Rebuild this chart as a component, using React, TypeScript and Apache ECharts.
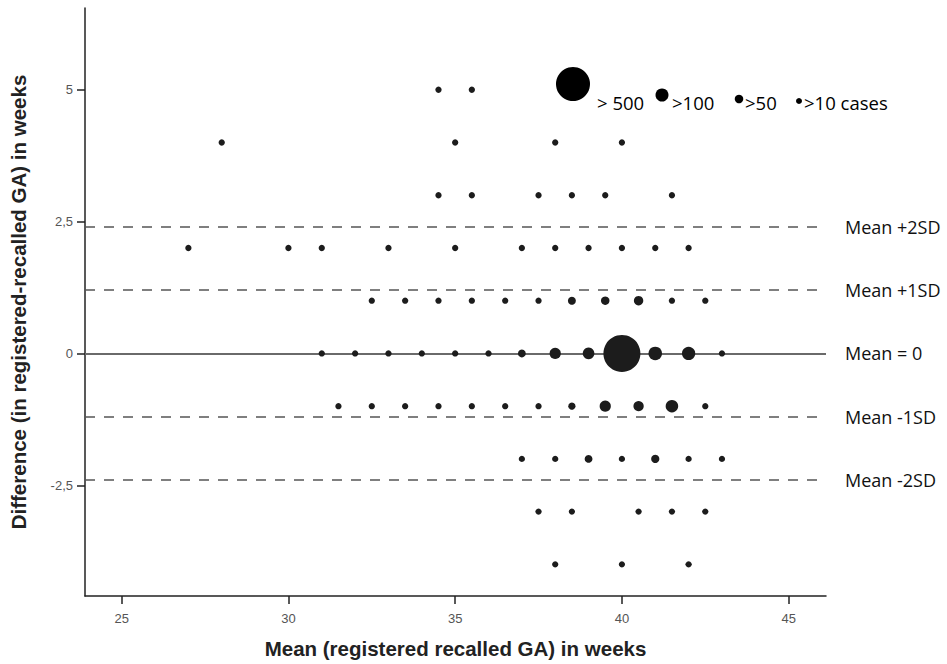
import React, { useEffect, useRef } from "react";
import * as echarts from "echarts";

// Mean of registered & recalled GA (weeks)
const meanWeeks = [
  34.5, 35.5,
  28, 35, 38, 40,
  34.5, 35.5, 37.5, 38.5, 39.5, 41.5,
  27, 30, 31, 33, 35, 37, 38, 39, 40, 41, 42,
  32.5, 33.5, 34.5, 35.5, 36.5, 37.5, 38.5, 39.5, 40.5, 41.5, 42.5,
  31, 32, 33, 34, 35, 36, 37, 38, 39, 40, 41, 42, 43,
  31.5, 32.5, 33.5, 34.5, 35.5, 36.5, 37.5, 38.5, 39.5, 40.5, 41.5, 42.5,
  37, 38, 39, 40, 41, 42, 43,
  37.5, 38.5, 40.5, 41.5, 42.5,
  38, 40, 42,
];
// Difference (registered - recalled) in weeks
const diffWeeks = [
  5, 5,
  4, 4, 4, 4,
  3, 3, 3, 3, 3, 3,
  2, 2, 2, 2, 2, 2, 2, 2, 2, 2, 2,
  1, 1, 1, 1, 1, 1, 1, 1, 1, 1, 1,
  0, 0, 0, 0, 0, 0, 0, 0, 0, 0, 0, 0, 0,
  -1, -1, -1, -1, -1, -1, -1, -1, -1, -1, -1, -1,
  -2, -2, -2, -2, -2, -2, -2,
  -3, -3, -3, -3, -3,
  -4, -4, -4,
];
// Estimated number of cases at each point
const caseCounts = [
  15, 15,
  15, 15, 15, 15,
  15, 15, 15, 15, 15, 15,
  15, 15, 15, 15, 15, 15, 15, 15, 15, 15, 15,
  15, 15, 15, 15, 15, 15, 42, 50, 60, 15, 15,
  15, 15, 15, 15, 15, 15, 40, 80, 85, 600, 110, 105, 15,
  15, 15, 15, 15, 15, 15, 15, 30, 80, 70, 95, 15,
  15, 15, 40, 15, 45, 15, 15,
  15, 15, 15, 15, 15,
  15, 15, 15,
];

const xTicks = [25, 30, 35, 40, 45];
const yTicks = [-2.5, 0, 2.5, 5];

const refLineValues = [2.4, 1.2, 0, -1.2, -2.4];
const refLineLabels = ["Mean +2SD", "Mean +1SD", "Mean = 0", "Mean -1SD", "Mean -2SD"];

const legendThresholds = [500, 100, 50, 10];
const legendLabels = ["> 500", ">100", ">50", ">10 cases"];

const sizeAnchors: [number, number][] = [
  [10, 6],
  [50, 8.5],
  [100, 13],
  [500, 35],
];
function sizeFor(count: number): number {
  if (count <= sizeAnchors[0][0]) return sizeAnchors[0][1];
  for (let i = 1; i < sizeAnchors.length; i++) {
    const [c1, s1] = sizeAnchors[i];
    const [c0, s0] = sizeAnchors[i - 1];
    if (count <= c1) return s0 + ((count - c0) / (c1 - c0)) * (s1 - s0);
  }
  return sizeAnchors[sizeAnchors.length - 1][1] + 2;
}

const FONT = "'Open Sans', 'Noto Sans', sans-serif";
const AXFONT = "'Liberation Sans', Arial, sans-serif";
const DOT = "#1c1c1c";

export default function App() {
  const ref = useRef<HTMLDivElement>(null);
  useEffect(() => {
    if (!ref.current) return;
    const chart = echarts.init(ref.current, undefined, { renderer: "svg" });
    const points = meanWeeks.map((x, i) => [x, diffWeeks[i], caseCounts[i]]);

    const legendX = [573, 662, 739, 799];
    const legendY = [84, 95, 99, 101];
    const legendTextX = [597, 672, 745, 804];
    const graphic: any[] = [];
    legendThresholds.forEach((t, i) => {
      const d = i === 0 ? 34 : sizeFor(t);
      graphic.push({
        type: "circle",
        shape: { cx: legendX[i], cy: legendY[i], r: d / 2 },
        style: { fill: "#000" },
      });
      graphic.push({
        type: "text",
        x: legendTextX[i],
        y: 102,
        style: {
          text: legendLabels[i],
          font: `18.5px ${FONT}`,
          fill: "#000",
          verticalAlign: "middle",
          align: "left",
        },
      });
    });

    chart.setOption({
      animation: false,
      grid: { left: 75, right: 121, top: 8, bottom: 64, containLabel: false },
      xAxis: {
        type: "value",
        min: 23.9,
        max: 46.12,
        name: "Mean (registered recalled GA) in weeks",
        nameLocation: "middle",
        nameGap: 42,
        nameTextStyle: {
          fontFamily: AXFONT,
          fontWeight: "bold",
          fontSize: 20.5,
          color: "#222",
        },
        axisLine: { show: true, onZero: false, lineStyle: { color: "#222", width: 1.5 } },
        axisTick: {
          show: true,
          customValues: xTicks,
          length: 8,
          lineStyle: { color: "#222", width: 1.5 },
        },
        axisLabel: {
          customValues: xTicks,
          color: "#555",
          fontSize: 13,
          margin: 16,
          fontFamily: AXFONT,
        },
        splitLine: { show: false },
      },
      yAxis: {
        type: "value",
        min: -4.6,
        max: 6.55,
        name: "Difference (in registered-recalled GA) in weeks",
        nameLocation: "middle",
        nameRotate: 90,
        nameGap: 56,
        nameTextStyle: {
          fontFamily: AXFONT,
          fontWeight: "bold",
          fontSize: 20.5,
          color: "#222",
        },
        axisLine: { show: true, onZero: false, lineStyle: { color: "#222", width: 1.5 } },
        axisTick: {
          show: true,
          customValues: yTicks,
          length: 8,
          lineStyle: { color: "#222", width: 1.5 },
        },
        axisLabel: {
          customValues: yTicks,
          color: "#555",
          fontSize: 13,
          margin: 12,
          fontFamily: AXFONT,
          formatter: (v: number) => String(v).replace(".", ","),
        },
        splitLine: { show: false },
      },
      series: [
        {
          type: "line",
          data: [],
          z: 1,
          markLine: {
            silent: true,
            symbol: "none",
            z: 1,
            data: refLineValues.map((v, i) => ({
              yAxis: v,
              lineStyle: {
                color: v === 0 ? "#6a6a6a" : "#555",
                width: v === 0 ? 2 : 1.6,
                type: v === 0 ? "solid" : [10, 9],
              },
              label: {
                show: true,
                position: "end",
                distance: 19,
                formatter: refLineLabels[i],
                color: "#111",
                fontSize: 18,
                fontFamily: FONT,
              },
            })),
          },
        },
        {
          type: "scatter",
          z: 5,
          data: points,
          symbol: "circle",
          symbolSize: (val: number[]) => sizeFor(val[2]),
          itemStyle: { color: DOT, opacity: 1 },
        },
      ],
      graphic,
    });
    return () => chart.dispose();
  }, []);
  return (
    <div
      ref={ref}
      style={{ position: "absolute", left: 0, top: 0, width: 947, height: 664 }}
    />
  );
}
